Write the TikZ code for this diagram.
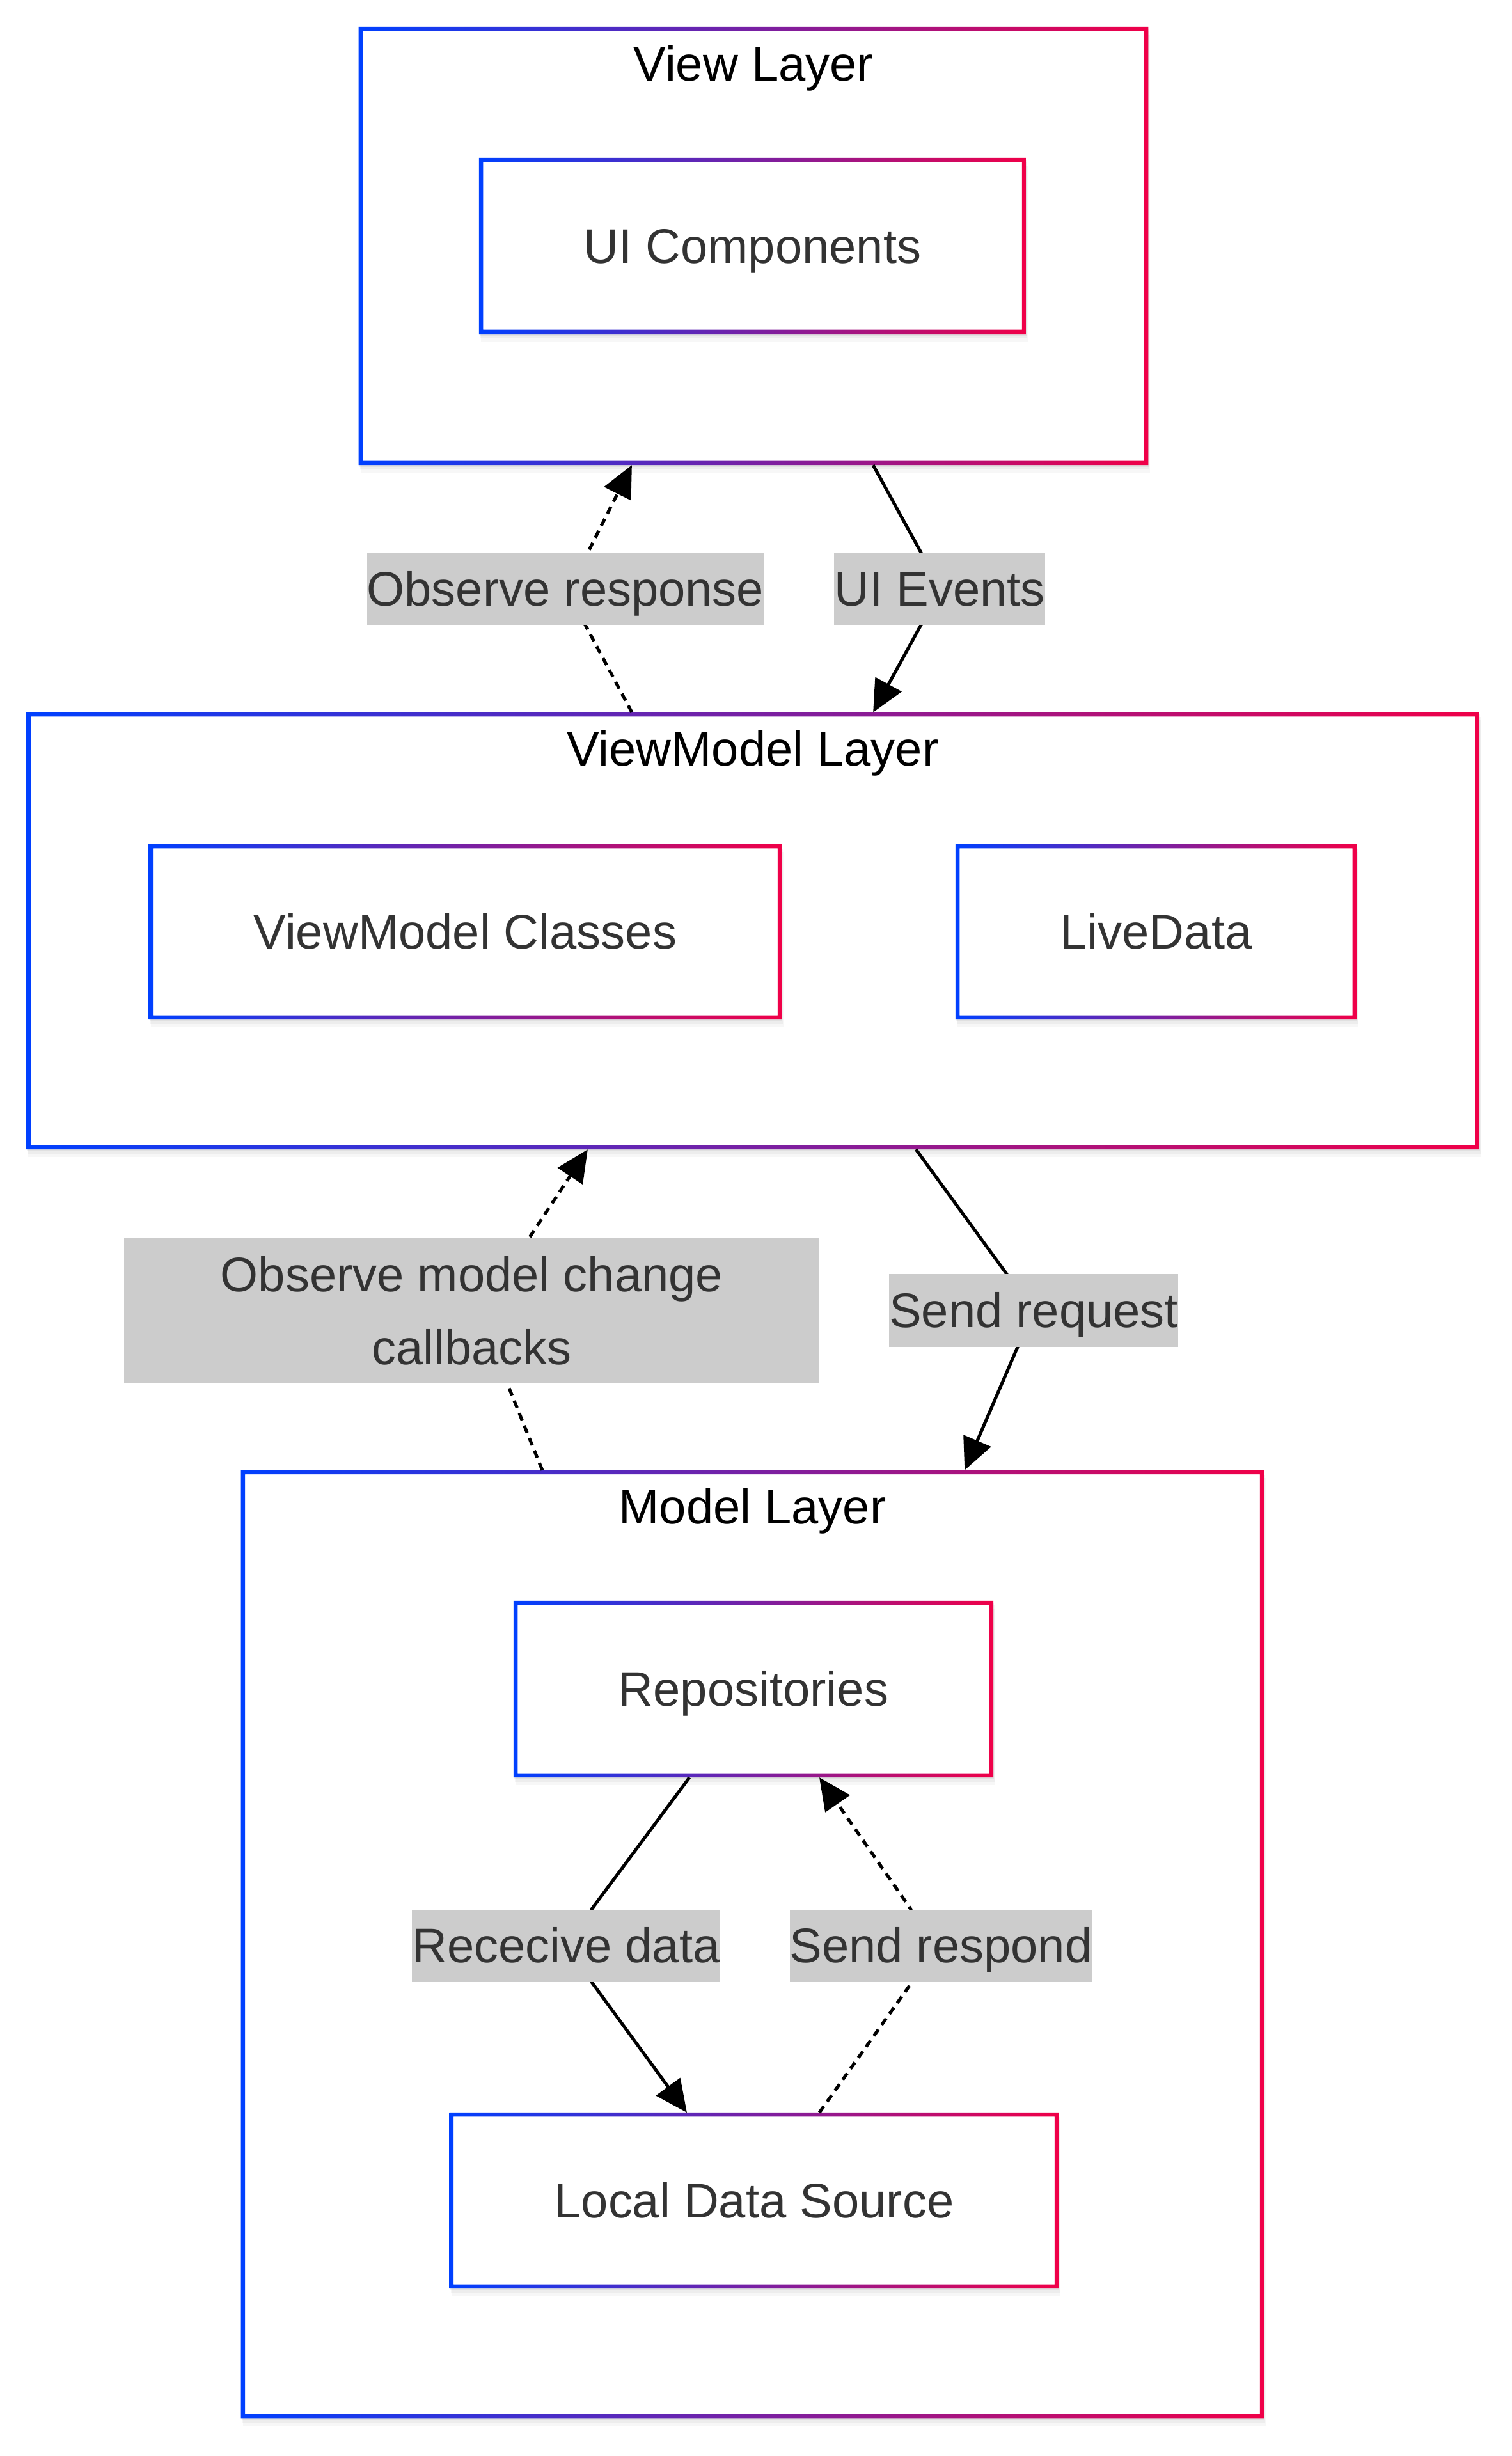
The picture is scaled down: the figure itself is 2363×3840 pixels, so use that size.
\documentclass[tikz,border=0pt]{standalone}
\usepackage{fontspec}
\setmainfont{Liberation Sans}
\usepackage{xcolor}
\usepackage{tikz}
\usetikzlibrary{arrows.meta,positioning,calc,shadows}
\definecolor{gblue}{RGB}{0,64,255}
\definecolor{gred}{RGB}{240,0,72}
\definecolor{lblgray}{RGB}{204,204,204}
\definecolor{txtgray}{RGB}{51,51,51}
\newcommand{\dfont}{\fontsize{21.6pt}{32.3pt}\selectfont}
\newlength{\bw}\setlength{\bw}{0.065cm}
\tikzset{
  box/.style 2 args={fill=white, minimum width=#1, minimum height=#2,
              inner sep=0pt, outer sep=0pt, text=txtgray, font=\dfont,
              text height=0.832cm, text depth=0.298cm,
              drop shadow={shadow xshift=0.01cm, shadow yshift=-0.03cm, opacity=0.05, fill=black},
              drop shadow={shadow xshift=0.02cm, shadow yshift=-0.07cm, opacity=0.04, fill=black},
              drop shadow={shadow xshift=0.03cm, shadow yshift=-0.12cm, opacity=0.03, fill=black}},
  title/.style={font=\dfont, text=black, anchor=base, inner sep=0pt},
  flow/.style={line width=0.05cm, -{Triangle[length=0.5cm, width=0.46cm]}},
  dotflow/.style={flow, dash pattern=on 0.12cm off 0.09cm},
  edgelbl/.style={fill=lblgray, text=txtgray, font=\dfont, inner sep=0pt,
                  text height=0.832cm, text depth=0.298cm},
}
% gradient border round a named node
\newcommand{\gframe}[1]{%
  \shade[left color=gblue, right color=gred, even odd rule]
    (#1.north west) rectangle (#1.south east)
    ([shift={(\bw,-\bw)}]#1.north west) rectangle ([shift={(-\bw,\bw)}]#1.south east);}

\begin{document}
\begin{tikzpicture}[x=0.01cm, y=-0.01cm]
  \useasboundingbox (0,0) rectangle (2363,3840);
  \fill[white] (0,0) rectangle (2363,3840);

  % layers
  \node[box={12.34cm}{6.85cm}] (view) at (1178,384.5) {};
  \node[box={22.70cm}{6.83cm}] (vm) at (1177,1455.5) {};
  \node[box={15.99cm}{14.82cm}] (model) at (1176.5,3040) {};

  % components
  \node[box={8.55cm}{2.75cm}] (ui) at (1176.5,384.5) {UI Components};
  \node[box={9.89cm}{2.74cm}] (vmc) at (727.5,1457) {ViewModel Classes};
  \node[box={6.27cm}{2.74cm}] (live) at (1807.5,1457) {LiveData};
  \node[box={7.50cm}{2.76cm}] (repo) at (1178,2641) {Repositories};
  \node[box={9.52cm}{2.75cm}] (local) at (1179,3440.5) {Local Data Source};

  \foreach \n in {view,vm,model,ui,vmc,live,repo,local} {\gframe{\n}}

  \node[title] (viewT) at ([yshift=-0.85cm]view.north) {View Layer};
  \node[title] (vmT) at ([yshift=-0.84cm]vm.north) {ViewModel Layer};
  \node[title] (modelT) at ([yshift=-0.84cm]model.north) {Model Layer};

  % bends behind the labels (bottom/top of each label)
  \coordinate (obsB) at (915,977);    \coordinate (obsT) at (919,864);
  \coordinate (uiT) at (1440,864);    \coordinate (uiB) at (1440,977);
  \coordinate (obsmB) at (793,2163);  \coordinate (obsmT) at (827,1936);
  \coordinate (sendT) at (1574,1992); \coordinate (sendB) at (1591,2106);
  \coordinate (recvT) at (925,2985);  \coordinate (recvB) at (925,3099);
  \coordinate (respB) at (1426,3099); \coordinate (respT) at (1424,2985);

  \draw[dotflow] ([xshift=-1.89cm]vm.north) -- (obsB)
    -- node[edgelbl, xshift=-0.33cm] (lObs) {Observe response} (obsT)
    -- ([xshift=-1.90cm]view.south);
  \draw[flow] ([xshift=1.87cm]view.south) -- (uiT)
    -- node[edgelbl, xshift=0.29cm] (lUi) {UI Events} (uiB)
    -- ([xshift=1.88cm]vm.north);
  \draw[dotflow] ([xshift=-3.285cm]model.north) -- (obsmB)
    -- node[edgelbl, xshift=-0.725cm, minimum width=10.87cm, align=center,
         text height=, text depth=, minimum height=2.27cm] (lObsM)
         {Observe model change\\callbacks} (obsmT)
    -- ([xshift=-2.58cm]vm.south);
  \draw[flow] ([xshift=2.55cm]vm.south) -- (sendT)
    -- node[edgelbl, xshift=0.335cm] (lSend) {Send request} (sendB)
    -- ([xshift=3.315cm]model.north);
  \draw[flow] ([xshift=-1.00cm]repo.south) -- (recvT)
    -- node[edgelbl, xshift=-0.40cm] (lRecv) {Rececive data} (recvB)
    -- ([xshift=-1.05cm]local.north);
  \draw[dotflow] ([xshift=1.02cm]local.north) -- (respB)
    -- node[edgelbl, xshift=0.46cm] (lResp) {Send respond} (respT)
    -- ([xshift=1.03cm]repo.south);
\end{tikzpicture}
\end{document}
